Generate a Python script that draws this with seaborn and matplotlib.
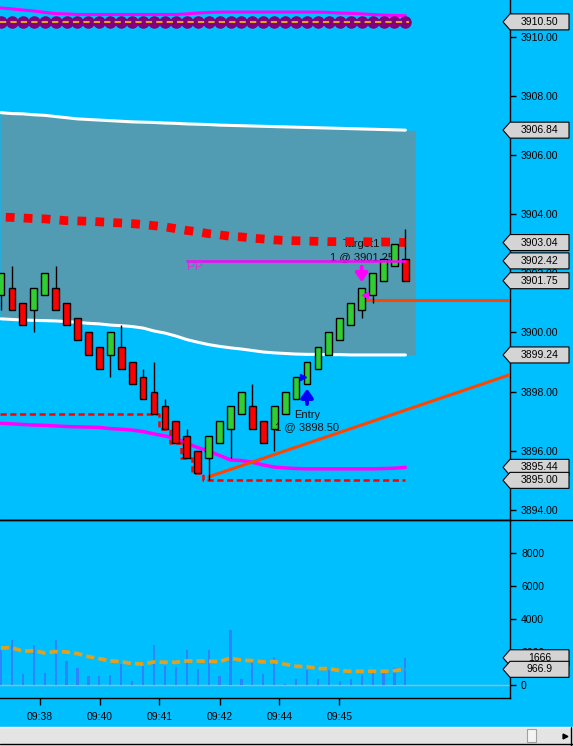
import numpy as np
import seaborn as sns
from matplotlib import pyplot as plt
from matplotlib.patches import Polygon, Rectangle
from matplotlib.lines import Line2D
from matplotlib.transforms import blended_transform_factory

# bar data
opens = [3901.25, 3901.50, 3901.00, 3900.75, 3901.25, 3901.50, 3901.00, 3900.50, 3900.00, 3899.50,
         3899.25, 3899.50, 3899.00, 3898.50, 3898.00, 3897.50, 3897.00, 3896.50, 3896.00, 3895.75,
         3896.25, 3896.75, 3897.25, 3897.50, 3897.00, 3896.75, 3897.25, 3897.75, 3898.25, 3898.75,
         3899.25, 3899.75, 3900.25, 3900.75, 3901.25, 3901.75, 3902.25, 3902.50]
closes = [3902.00, 3900.75, 3900.25, 3901.50, 3902.00, 3900.75, 3900.25, 3899.75, 3899.25, 3898.75,
          3900.00, 3898.75, 3898.25, 3897.75, 3897.25, 3896.75, 3896.25, 3895.75, 3895.25, 3896.50,
          3897.00, 3897.50, 3898.00, 3896.75, 3896.25, 3897.50, 3898.00, 3898.50, 3899.00, 3899.50,
          3900.00, 3900.50, 3901.00, 3901.50, 3902.00, 3902.50, 3903.00, 3901.75]
highs = [3902.00, 3902.25, 3901.00, 3901.50, 3902.00, 3902.25, 3901.00, 3900.50, 3900.00, 3899.50,
         3900.00, 3900.25, 3899.00, 3898.75, 3899.00, 3897.75, 3897.00, 3896.75, 3896.00, 3896.50,
         3897.00, 3897.50, 3898.00, 3898.25, 3897.00, 3897.50, 3898.00, 3898.50, 3899.00, 3899.50,
         3900.00, 3900.50, 3901.00, 3901.50, 3902.00, 3902.50, 3903.00, 3903.50]
lows = [3900.75, 3900.75, 3900.25, 3900.00, 3901.25, 3900.75, 3900.25, 3899.75, 3899.25, 3898.75,
        3898.50, 3898.75, 3898.25, 3897.75, 3897.25, 3896.75, 3896.25, 3895.75, 3895.25, 3895.00,
        3896.25, 3895.75, 3897.25, 3896.75, 3896.25, 3896.00, 3897.25, 3897.75, 3898.25, 3898.75,
        3899.25, 3899.75, 3900.25, 3900.50, 3901.00, 3901.75, 3902.25, 3901.75]
volumes = [2118, 2763, 706, 2460, 766, 2763, 1492, 1069, 585, 585,
           645, 1311, 282, 1190, 2460, 1190, 1129, 2158, 1008, 2158,
           585, 3368, 403, 1492, 706, 1734, 100, 403, 948, 403,
           948, 282, 403, 645, 948, 766, 1069, 1666]
volume_ma = [2259, 2279, 2057, 2097, 1956, 2037, 2017, 1916, 1734, 1613,
             1472, 1432, 1311, 1291, 1412, 1392, 1392, 1472, 1472, 1452,
             1432, 1654, 1513, 1492, 1412, 1432, 1271, 1150, 1129, 1008,
             1008, 887, 847, 847, 847, 847, 887, 966.9]

# indicator lines
band_upper = [3907.43, 3907.40, 3907.39, 3907.36, 3907.34, 3907.30, 3907.26, 3907.22, 3907.20, 3907.18,
              3907.16, 3907.14, 3907.12, 3907.11, 3907.10, 3907.08, 3907.07, 3907.05, 3907.04, 3907.03,
              3907.01, 3907.00, 3906.99, 3906.98, 3906.97, 3906.96, 3906.95, 3906.94, 3906.93, 3906.92,
              3906.91, 3906.90, 3906.89, 3906.88, 3906.87, 3906.86, 3906.85, 3906.84]
band_lower = [3900.46, 3900.44, 3900.42, 3900.41, 3900.40, 3900.39, 3900.37, 3900.34, 3900.31, 3900.29,
              3900.25, 3900.23, 3900.20, 3900.15, 3900.05, 3899.98, 3899.88, 3899.76, 3899.67, 3899.59,
              3899.53, 3899.48, 3899.44, 3899.39, 3899.34, 3899.31, 3899.29, 3899.27, 3899.26, 3899.26,
              3899.25, 3899.25, 3899.24, 3899.24, 3899.24, 3899.24, 3899.24, 3899.24]
mid_line = [3903.90, 3903.89, 3903.87, 3903.85, 3903.84, 3903.81, 3903.78, 3903.77, 3903.76, 3903.74,
            3903.72, 3903.70, 3903.68, 3903.65, 3903.61, 3903.57, 3903.51, 3903.45, 3903.40, 3903.34,
            3903.30, 3903.25, 3903.23, 3903.19, 3903.16, 3903.13, 3903.11, 3903.10, 3903.09, 3903.08,
            3903.07, 3903.07, 3903.07, 3903.07, 3903.06, 3903.06, 3903.05, 3903.04]
low_line = [3896.93, 3896.91, 3896.89, 3896.87, 3896.86, 3896.84, 3896.82, 3896.81, 3896.80, 3896.79,
            3896.75, 3896.73, 3896.70, 3896.65, 3896.57, 3896.50, 3896.42, 3896.25, 3896.11, 3895.99,
            3895.84, 3895.69, 3895.67, 3895.61, 3895.52, 3895.45, 3895.42, 3895.40, 3895.39, 3895.39,
            3895.39, 3895.39, 3895.39, 3895.39, 3895.39, 3895.40, 3895.41, 3895.44]
top_line = [3910.97, 3910.94, 3910.90, 3910.87, 3910.82, 3910.78, 3910.77, 3910.75, 3910.75, 3910.75,
            3910.75, 3910.75, 3910.75, 3910.75, 3910.75, 3910.75, 3910.75, 3910.77, 3910.80, 3910.82,
            3910.83, 3910.83, 3910.83, 3910.83, 3910.83, 3910.83, 3910.83, 3910.83, 3910.83, 3910.83,
            3910.82, 3910.80, 3910.79, 3910.77, 3910.75, 3910.73, 3910.72, 3910.71]
stop_line = [3897.25, 3897.25, 3897.25, 3897.25, 3897.25, 3897.25, 3897.25, 3897.25, 3897.25, 3897.25,
             3897.25, 3897.25, 3897.25, 3897.25, 3897.25, 3896.75, 3896.25, 3895.75, 3895.25, 3895.00,
             3895.00, 3895.00, 3895.00, 3895.00, 3895.00, 3895.00, 3895.00, 3895.00, 3895.00, 3895.00,
             3895.00, 3895.00, 3895.00, 3895.00, 3895.00, 3895.00, 3895.00, 3895.00]
circle_level = 3910.50
pivot_level = 3902.42
exit_level = 3901.10
trend_start_bar, trend_start_price, trend_slope = 19, 3895.12, 0.1253
entry_bar, entry_price = 28, 3898.50
target_bar, target_price = 33, 3901.25

price_ticks = [3894, 3896, 3898, 3900, 3902, 3904, 3906, 3908, 3910]
volume_ticks = [0, 2000, 4000, 6000, 8000]
time_ticks = [3.55, 9.05, 14.5, 20.0, 25.45, 30.95]
time_labels = ['09:38', '09:40', '09:41', '09:42', '09:44', '09:45']
price_tags = [3910.50, 3906.84, 3903.04, 3902.42, 3901.75, 3899.24, 3895.44, 3895.00]
volume_tags = ['1666', '966.9']

BG = '#00BFFF'
sns.set_style('white')
plt.rcParams['font.family'] = ['Liberation Sans', 'DejaVu Sans']
plt.rcParams['axes.axisbelow'] = False

W, H = 573, 746
fig = plt.figure(figsize=(W / 100, H / 100), dpi=100, facecolor=BG)
ax = fig.add_axes([0, (H - 520) / H, 510 / W, 520 / H], facecolor=BG)
ax_vol = fig.add_axes([0, (H - 698) / H, 510 / W, 178 / H], facecolor=BG)

idx = np.arange(len(opens))
x_left, x_right = -0.09, 46.57

# band, stretched a little past the last bar like the platform does
band_x = np.concatenate([[x_left], idx, [idx[-1] + 0.9]])
ax.fill_between(band_x, band_upper[:1] + band_upper + band_upper[-1:],
                band_lower[:1] + band_lower + band_lower[-1:], color='#519CB2', lw=0, zorder=1)
sns.lineplot(x=idx, y=band_upper, ax=ax, color='white', linewidth=2.2, zorder=2)
sns.lineplot(x=idx, y=band_lower, ax=ax, color='white', linewidth=2.2, zorder=2)

# top lines
sns.lineplot(x=idx, y=top_line, ax=ax, color='#FF00FF', linewidth=2.2, zorder=2)
ax.plot(idx, [circle_level] * len(idx), 'o', color='#800080', markersize=8, zorder=3)
ax.plot([-0.1, idx[-1] + 0.3], [circle_level, circle_level], color='#E0A020',
        linewidth=1.5, linestyle=(0, (3, 2)), zorder=4)

sns.lineplot(x=idx, y=low_line, ax=ax, color='#FF00FF', linewidth=2.5, zorder=2)
ax.step(np.append(-0.1, idx), [stop_line[0]] + stop_line, where='mid', color='red', linewidth=1.8,
        linestyle=(0, (2.5, 1.4)), zorder=3)

# texts under the red squares
ax.text(target_bar, 3902.98, 'Target1', ha='center', va='center', fontsize=8, color='#111111', zorder=2.5)
ax.text(target_bar, 3902.55, '1 @ 3901.25', ha='center', va='center', fontsize=8, color='#111111', zorder=2.5)
ax.plot(idx, mid_line, color='red', linewidth=6.3, linestyle=(1.5, (1.0, 1.05)), zorder=3)

# pivot and trade lines
ax.plot([17, idx[-1]], [pivot_level, pivot_level], color='#FF00FF', linewidth=1.8, zorder=6)
ax.text(17, 3902.2, 'PP', ha='left', va='center', fontsize=8.5, color='#D830D8', zorder=6)
ax.plot([target_bar, x_right], [exit_level, exit_level], color='#FF4500', linewidth=2.2, zorder=3)
trend_end = trend_start_price + (x_right - trend_start_bar) * trend_slope
ax.plot([trend_start_bar, x_right], [trend_start_price, trend_end], color='#FF4500', linewidth=2.2, zorder=3)

# candles
body_low = np.minimum(opens, closes)
body_h = np.abs(np.array(closes) - np.array(opens))
colors = ['#32CD32' if c >= o else '#FF0000' for o, c in zip(opens, closes)]
ax.vlines(idx, lows, highs, color='black', linewidth=1, zorder=4)
ax.bar(idx, body_h, bottom=body_low, width=0.62, color=colors, edgecolor='black', linewidth=1, zorder=5)

# trade markers
ax.text(entry_bar, 3897.21, 'Entry', ha='center', va='center', fontsize=8, color='#111111', zorder=6)
ax.text(entry_bar, 3896.80, '1 @ 3898.50', ha='center', va='center', fontsize=8, color='#111111', zorder=6)
ax.annotate('', xy=(entry_bar, 3898.10), xytext=(entry_bar, 3897.58),
            arrowprops=dict(arrowstyle='-|>,head_width=0.35,head_length=0.5', color='#0000FF', lw=2.8,
                            shrinkA=0, shrinkB=0), zorder=6)
ax.annotate('', xy=(target_bar, 3901.70), xytext=(target_bar, 3902.22),
            arrowprops=dict(arrowstyle='-|>,head_width=0.35,head_length=0.5', color='#FF00FF', lw=2.8,
                            shrinkA=0, shrinkB=0), zorder=6)
ax.plot(entry_bar - 0.35, entry_price, '>', color='#0000FF', markersize=5, zorder=6)
ax.plot(target_bar + 0.3, target_price, '<', color='#FF00FF', markersize=5, zorder=6)

ax.set_xlim(x_left, x_right)
ax.set_ylim(3893.66, 3911.24)
ax.yaxis.tick_right()
ax.set_yticks(price_ticks)
ax.set_yticklabels([f'{t:.2f}' for t in price_ticks])
ax.set_xticks([])
ax.tick_params(axis='y', direction='out', length=4, width=1, colors='black', labelsize=7.5, pad=4, right=True)
ax.set_xlabel('')
ax.set_ylabel('')
for side in ['top', 'left']:
    ax.spines[side].set_visible(False)
for side in ['right', 'bottom']:
    ax.spines[side].set_color('black')
    ax.spines[side].set_linewidth(1)

# volume panel
sns.barplot(x=idx, y=volumes, ax=ax_vol, native_scale=True, width=0.2, color='#2E83FF',
            saturation=1, linewidth=0, antialiased=False, zorder=3)
ax_vol.axhline(0, color='#B0B0B0', linewidth=1, zorder=2)
ax_vol.plot(idx, volume_ma, color='#E0A020', linewidth=2.7, linestyle=(0, (2.2, 1.1)), zorder=4)
ax_vol.set_xlim(x_left, x_right)
ax_vol.set_ylim(-768, 10000)
ax_vol.yaxis.tick_right()
ax_vol.set_yticks(volume_ticks)
ax_vol.set_yticklabels([str(t) for t in volume_ticks])
ax_vol.set_xticks(time_ticks)
ax_vol.set_xticklabels(time_labels)
ax_vol.tick_params(axis='y', direction='out', length=4, width=1, colors='black', labelsize=7.5, pad=4, right=True)
ax_vol.tick_params(axis='x', direction='out', length=5, width=1, colors='black', labelsize=7.5, pad=5, bottom=True)
ax_vol.set_xlabel('')
ax_vol.set_ylabel('')
ax_vol.spines['left'].set_visible(False)
for side in ['top', 'right', 'bottom']:
    ax_vol.spines[side].set_color('black')
    ax_vol.spines[side].set_linewidth(1)


def draw_tag(axis, value, label, height_px):
    trans = blended_transform_factory(axis.transAxes, axis.transData)
    lo, hi = axis.get_ylim()
    half = (hi - lo) / (axis.bbox.height) * height_px / 2
    tip, base, right = 503 / 510, 1.0, 569 / 510
    poly = Polygon([(tip, value), (base, value + half), (right, value + half),
                    (right, value - half), (base, value - half)], closed=True,
                   facecolor='#D4D4D4', edgecolor='black', linewidth=0.8,
                   transform=trans, clip_on=False, zorder=20)
    axis.add_patch(poly)
    axis.text((base + right) / 2, value, label, transform=trans, ha='center', va='center',
              fontsize=7.5, color='black', clip_on=False, zorder=21)


for v in price_tags:
    draw_tag(ax, v, f'{v:.2f}', 16)
for t in volume_tags:
    draw_tag(ax_vol, float(t), t, 16)

# separator line and scroll bar
fig.add_artist(Line2D([0, 1], [(H - 520) / H] * 2, color='black', linewidth=1, transform=fig.transFigure))
fig.add_artist(Rectangle((0, 0), 1, 19 / H, transform=fig.transFigure, facecolor='#E4E4E4',
                         edgecolor='none'))
fig.add_artist(Line2D([0, 1], [19 / H] * 2, color='white', linewidth=1, transform=fig.transFigure))
fig.add_artist(Line2D([0, 1], [2 / H] * 2, color='black', linewidth=1, transform=fig.transFigure))
fig.add_artist(Line2D([571 / W] * 2, [0, 19 / H], color='black', linewidth=1, transform=fig.transFigure))
fig.add_artist(Rectangle((527 / W, 4 / H), 9 / W, 13 / H, transform=fig.transFigure,
                         facecolor='#F4F4F4', edgecolor='#A0A0A0', linewidth=0.8))
fig.add_artist(Line2D([565 / W], [10 / H], marker='>', color='black', markersize=3.5,
                      transform=fig.transFigure))

fig.savefig('out.png', dpi=100, facecolor=BG)
